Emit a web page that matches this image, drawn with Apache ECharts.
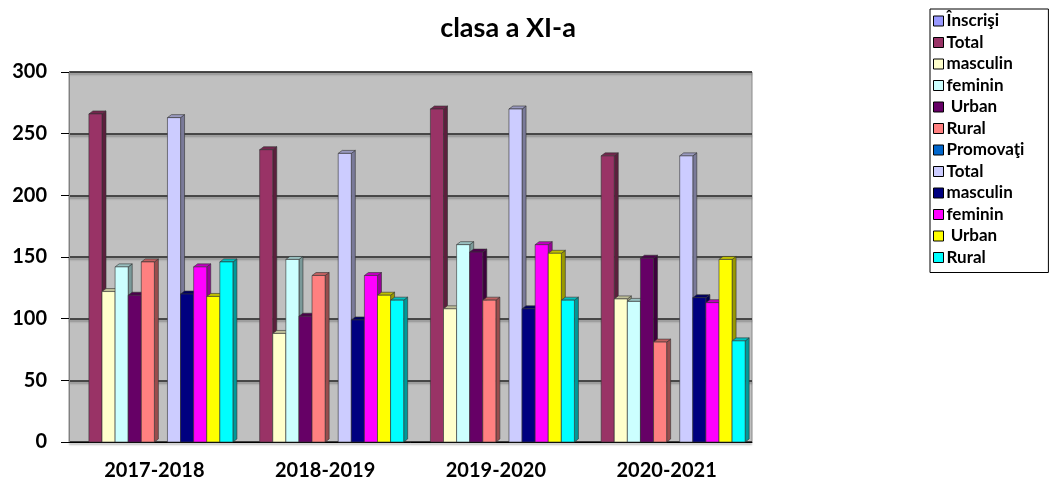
<!DOCTYPE html>
<html>
<head>
<meta charset="utf-8">
<script src="https://cdn.jsdelivr.net/npm/echarts@6/dist/echarts.min.js"></script>
<style>
  html, body { margin: 0; padding: 0; background: #fff; }
  #chart { width: 1049px; height: 481px; }
</style>
</head>
<body>
<div id="chart"></div>
<script>
const years = ['2017-2018', '2018-2019', '2019-2020', '2020-2021'];
const yTicks = [0, 50, 100, 150, 200, 250, 300];

// inscrisi
const inscrisi = [];
const inscrisiTotal = [266, 237, 270, 232];
const inscrisiMasc = [122, 88, 108, 116];
const inscrisiFem = [142, 148, 160, 114];
const inscrisiUrban = [119, 102, 154, 149];
const inscrisiRural = [146, 135, 115, 81];
// promovati
const promovati = [];
const promovatiTotal = [263, 234, 270, 232];
const promovatiMasc = [120, 99, 108, 117];
const promovatiFem = [142, 135, 160, 113];
const promovatiUrban = [118, 119, 153, 148];
const promovatiRural = [146, 115, 115, 82];

const seriesList = [
  { name: 'Înscrişi', data: inscrisi, color: '#9999FF' },
  { name: 'Total', data: inscrisiTotal, color: '#993366' },
  { name: 'masculin', data: inscrisiMasc, color: '#FFFFCC' },
  { name: 'feminin', data: inscrisiFem, color: '#CCFFFF' },
  { name: ' Urban', data: inscrisiUrban, color: '#660066' },
  { name: 'Rural', data: inscrisiRural, color: '#FF8080' },
  { name: 'Promovaţi', data: promovati, color: '#0066CC' },
  { name: 'Total ', data: promovatiTotal, color: '#CCCCFF' },
  { name: 'masculin ', data: promovatiMasc, color: '#000080' },
  { name: 'feminin ', data: promovatiFem, color: '#FF00FF' },
  { name: ' Urban ', data: promovatiUrban, color: '#FFFF00' },
  { name: 'Rural ', data: promovatiRural, color: '#00FFFF' }
];

const chart = echarts.init(document.getElementById('chart'));
const FONT = 'Lato, "Open Sans", sans-serif';
const nSlots = seriesList.length;
const fill = 0.92;

function shade(hex, k) {
  const c = echarts.color.parse(hex);
  return 'rgb(' + Math.round(c[0] * k) + ',' + Math.round(c[1] * k) + ',' + Math.round(c[2] * k) + ')';
}

// fake excel-ish 3d column: front face + side + top
function make3d(slot, color) {
  return function (params, api) {
    const cat = api.value(0);
    const v = api.value(1);
    const base = api.coord([cat, 0]);
    const top = api.coord([cat, v]);
    const band = api.size([1, 0])[0];
    const w = band * fill / nSlots;
    const x0 = base[0] - band * fill / 2 + slot * w;
    const dx = 4, dy = 3;
    const stroke = { stroke: '#333', lineWidth: 0.6 };
    return {
      type: 'group',
      children: [
        {
          type: 'polygon',
          shape: { points: [[x0 + w, top[1]], [x0 + w + dx, top[1] - dy], [x0 + w + dx, base[1] - dy], [x0 + w, base[1]]] },
          style: Object.assign({ fill: shade(color, 0.6) }, stroke)
        },
        {
          type: 'polygon',
          shape: { points: [[x0, top[1]], [x0 + dx, top[1] - dy], [x0 + w + dx, top[1] - dy], [x0 + w, top[1]]] },
          style: Object.assign({ fill: shade(color, 0.75) }, stroke)
        },
        {
          type: 'rect',
          shape: { x: x0, y: top[1], width: w, height: base[1] - top[1] },
          style: Object.assign({ fill: color }, stroke)
        }
      ]
    };
  };
}

const option = {
  animation: false,
  title: {
    text: 'clasa a XI-a',
    left: 503,
    top: 10,
    textAlign: 'center',
    textStyle: { fontFamily: FONT, fontWeight: 'bold', fontSize: 27, color: '#000' }
  },
  legend: {
    orient: 'vertical',
    left: 930,
    top: 9,
    padding: [3, 24, 6, 3],
    itemWidth: 10,
    itemHeight: 10,
    itemGap: 3.5,
    borderColor: '#000',
    borderWidth: 1,
    icon: 'rect',
    selectedMode: false,
    itemStyle: { borderColor: '#000', borderWidth: 1 },
    textStyle: { fontFamily: FONT, fontWeight: 'bold', fontSize: 17, lineHeight: 18, color: '#000', padding: [0, 0, 0, -2] },
    data: seriesList.map(s => s.name)
  },
  grid: {
    left: 69,
    right: 297,
    top: 72,
    bottom: 38,
    show: true,
    backgroundColor: '#C0C0C0',
    borderColor: '#8a8a8a',
    borderWidth: 1
  },
  xAxis: {
    type: 'category',
    data: years,
    axisLine: { lineStyle: { color: '#000', width: 1 } },
    axisTick: { length: 8, lineStyle: { color: '#000' } },
    axisLabel: { margin: 19, fontFamily: FONT, fontWeight: 'bold', fontSize: 20, color: '#000' }
  },
  yAxis: {
    type: 'value',
    min: yTicks[0],
    max: yTicks[yTicks.length - 1],
    interval: 50,
    axisLine: { show: true, lineStyle: { color: '#808080' } },
    axisTick: { show: true, length: 8, lineStyle: { color: '#000' } },
    axisLabel: { margin: 22, fontFamily: FONT, fontWeight: 'bold', fontSize: 20, color: '#000' },
    splitLine: { lineStyle: { color: '#222', width: 1.5, shadowColor: 'rgba(0,0,0,0.35)', shadowOffsetY: 2, shadowBlur: 2 } }
  },
  series: seriesList.map((s, i) => ({
    name: s.name,
    type: 'custom',
    itemStyle: { color: s.color },
    renderItem: make3d(i, s.color),
    encode: { x: 0, y: 1 },
    data: s.data.map((v, k) => [k, v])
  }))
};

chart.setOption(option);
</script>
</body>
</html>
